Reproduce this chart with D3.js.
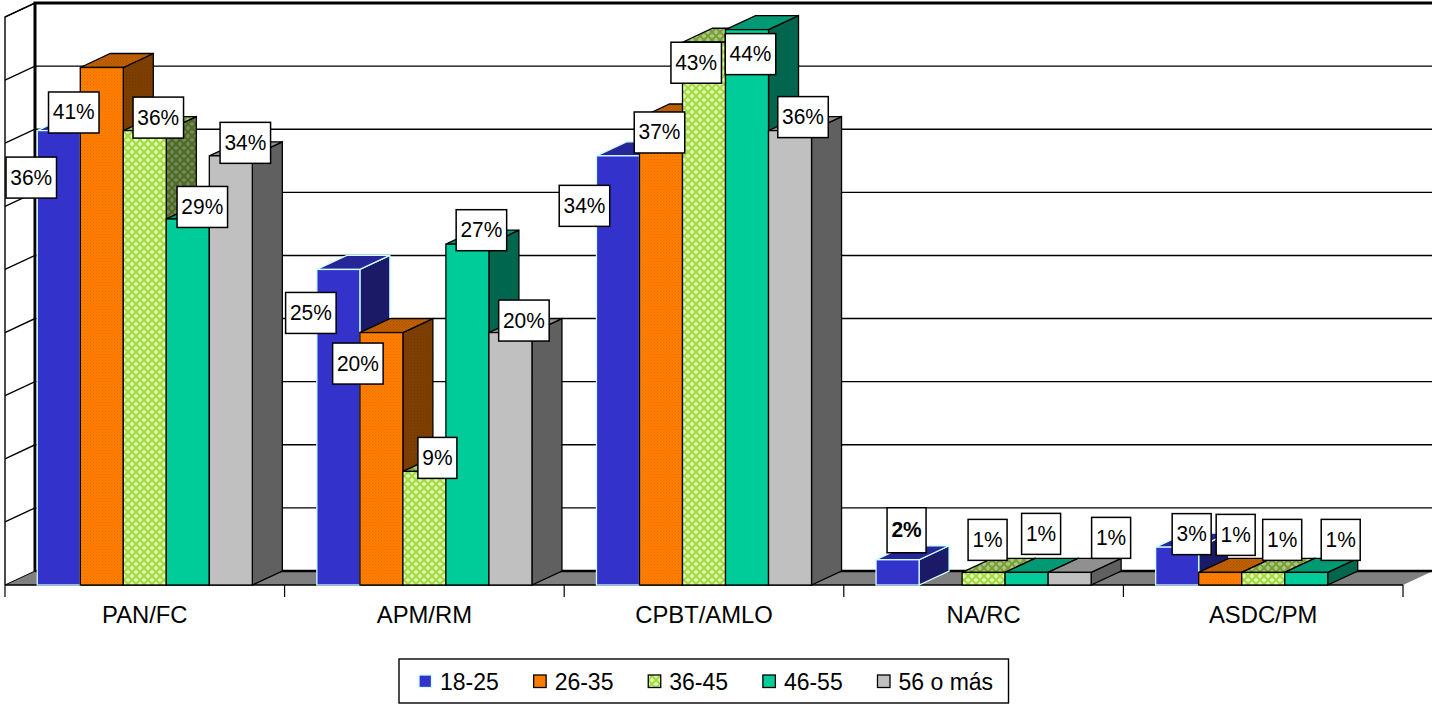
<!DOCTYPE html>
<html><head><meta charset="utf-8">
<script src="https://cdn.jsdelivr.net/npm/d3@7/dist/d3.min.js"></script>
<style>html,body{margin:0;padding:0;background:#fff}svg{display:block}text{font-family:"Liberation Sans",Arial,sans-serif;fill:#000}</style>
</head><body><div id="c"></div>
<script>
const categories = ["PAN/FC","APM/RM","CPBT/AMLO","NA/RC","ASDC/PM"];
const seriesNames = ["18-25","26-35","36-45","46-55","56 o más"];
const s1825 = [36,25,34,2,3];
const s2635 = [41,20,37,null,1];
const s3645 = [36,9,43,1,1];
const s4655 = [29,27,44,1,1];
const s56 = [34,20,36,1,null];
const seriesValues = [s1825,s2635,s3645,s4655,s56];
// hand-placed data label offsets in the source chart (from the bar's top-left front corner)
const labelDx = [[-6,-6.5,35,36,36],[-6,-2,34.5,35.5,35],[-12,20,13.7,25,34.5],[30.5,0,25.5,36,63],[36,37,40.5,56,0]];
const labelDy = [[47,45,-13,-12,-13],[43.5,31,-13.5,-14,-12],[50,14.5,20.5,24.5,-13.5],[-29.5,0,-32.5,-38.5,-34.5],[-13,-37.5,-32.5,-32.5,0]];

const W=1432,H=704,depthX=30,depthY=14;
const svg=d3.select("#c").append("svg").attr("width",W).attr("height",H);
const defs=svg.append("defs");
function lattice(id,bg,fg,hi){
  const p=defs.append("pattern").attr("id",id).attr("width",8).attr("height",8).attr("patternUnits","userSpaceOnUse");
  p.append("rect").attr("width",8).attr("height",8).attr("fill",bg);
  p.append("path").attr("d","M0,0L8,8M8,0L0,8").attr("stroke",fg).attr("stroke-width",1.6);
  p.append("rect").attr("x",0).attr("y",3).attr("width",2).attr("height",2).attr("fill",hi);
  p.append("rect").attr("x",6).attr("y",3).attr("width",2).attr("height",2).attr("fill",hi);
  p.append("rect").attr("x",3).attr("y",0).attr("width",2).attr("height",2).attr("fill",hi);
  p.append("rect").attr("x",3).attr("y",6).attr("width",2).attr("height",2).attr("fill",hi);
}
function fine(id,bg,fg){
  const p=defs.append("pattern").attr("id",id).attr("width",3).attr("height",3).attr("patternUnits","userSpaceOnUse");
  p.append("rect").attr("width",3).attr("height",3).attr("fill",bg);
  p.append("rect").attr("width",1).attr("height",1).attr("fill",fg);
  p.append("rect").attr("x",1.5).attr("y",1.5).attr("width",1).attr("height",1).attr("fill",fg);
}
fine("oF","#ff8000","#e86c00");fine("oT","#c06000","#a85000");fine("oS","#804000","#6c3600");
lattice("gF","#c8f58c","#a6d63c","#d8fbb4");lattice("gT","#99bf73","#7a9a2c","#a8c888");lattice("gS","#66804d","#4d6620","#708a58");
const styles=[
 {front:"#3333cc",top:"#262699",side:"#1a1a66",stroke:"#ccffff"},
 {front:"url(#oF)",top:"url(#oT)",side:"url(#oS)",stroke:"#000"},
 {front:"url(#gF)",top:"url(#gT)",side:"url(#gS)",stroke:"#000"},
 {front:"#00cc99",top:"#009973",side:"#00664d",stroke:"#000"},
 {front:"#c0c0c0",top:"#909090",side:"#606060",stroke:"#000"}];

const x=d3.scaleBand().domain(categories).range([5,1403]);
const xi=d3.scaleBand().domain(seriesNames).range([0,x.step()]).paddingOuter(.75).paddingInner(0);
const y=d3.scaleLinear().domain([0,45]).range([585,17]);
const poly=pts=>"M"+pts.map(p=>p.join(",")).join("L")+"Z";

// walls
const y0=y(0),yT=y(45),xL=5,xR=1403;
svg.append("path").attr("d",poly([[xL,y0],[xL+depthX,y0-depthY],[xR+depthX,y0-depthY],[xR,y0]])).attr("fill","#808080");
const grid=svg.append("g");
y.ticks(9).forEach(t=>{
  const yy=y(t);
  grid.append("path").attr("d",`M${xL},${yy}L${xL+depthX},${yy-depthY}L${xR+depthX},${yy-depthY}`).attr("fill","none").attr("stroke","#000").attr("stroke-width",(t===0||t===45)?1:1.4);
});
svg.append("path").attr("d",`M${xL+depthX},${y0-depthY}L${xR+depthX},${y0-depthY}`).attr("stroke","#000").attr("stroke-width",2.4);
svg.append("path").attr("d",`M${xL+depthX},${y0-depthY}L${xL+depthX},${yT-depthY}L${xR+depthX},${yT-depthY}`).attr("fill","none").attr("stroke","#000").attr("stroke-width",3);
svg.append("path").attr("d",`M${xL},${y0}L${xL},${yT}L${xL+depthX},${yT-depthY}`).attr("fill","none").attr("stroke","#000").attr("stroke-width",1.4);

// axis
const axis=svg.append("g").attr("transform",`translate(0,${y0})`).call(d3.axisBottom(x).tickSize(0).tickPadding(21));
axis.select(".domain").attr("stroke","#000").attr("stroke-width",1.4).attr("d",`M${xL},0L${xR},0`);
axis.selectAll("text").attr("font-size",23.8).attr("font-family","Liberation Sans");
x.domain().concat([null]).forEach((c,i)=>{
  const tx=xL+i*x.step();
  axis.append("line").attr("x1",tx).attr("x2",tx).attr("y1",0).attr("y2",12).attr("stroke","#000").attr("stroke-width",1.2);
});

// bars, painted left to right
const bars=svg.append("g");
categories.forEach((c,ci)=>{
  seriesNames.forEach((s,si)=>{
    const v=seriesValues[si][ci];
    if(v==null) return;
    const st=styles[si],x0=x(c)+xi(s),x1=x0+xi.bandwidth(),t=y(v),b=y(0);
    const g=bars.append("g").attr("stroke",st.stroke).attr("stroke-width",1.3).attr("stroke-linejoin","miter");
    g.append("path").attr("d",poly([[x1,t],[x1+depthX,t-depthY],[x1+depthX,b-depthY],[x1,b]])).attr("fill",st.side);
    g.append("path").attr("d",poly([[x0,t],[x0+depthX,t-depthY],[x1+depthX,t-depthY],[x1,t]])).attr("fill",st.top);
    g.append("rect").attr("x",x0).attr("y",t).attr("width",x1-x0).attr("height",b-t).attr("fill",st.front);
  });
});

// data labels
const labels=svg.append("g");
categories.forEach((c,ci)=>{
  seriesNames.forEach((s,si)=>{
    const v=seriesValues[si][ci];
    if(v==null) return;
    const cx=x(c)+xi(s)+labelDx[ci][si], cy=y(v)+labelDy[ci][si];
    const txt=v+"%";
    const bold=(ci===3&&si===0);
    const w=txt.length===3?50.5:39,h=bold?45:41;
    const g=labels.append("g");
    g.append("rect").attr("x",cx-w/2).attr("y",cy-h/2).attr("width",w).attr("height",h).attr("fill","#fff").attr("stroke","#000").attr("stroke-width",1.5);
    const t=g.append("text").attr("x",cx).attr("y",cy).attr("dy","0.31em").attr("text-anchor","middle").attr("font-size",22.5)
      .attr("font-weight",bold?"bold":"normal").text(txt);
    const natural=t.node().getComputedTextLength();
    t.attr("textLength",natural*0.93).attr("lengthAdjust","spacingAndGlyphs");
  });
});

// legend
const lg=svg.append("g");
lg.append("rect").attr("x",399).attr("y",659).attr("width",609.5).attr("height",44).attr("fill","#fff").attr("stroke","#000").attr("stroke-width",1.4);
const lx=d3.scalePoint().domain(seriesNames).range([419,877.5]);
seriesNames.forEach((s,i)=>{
  lg.append("rect").attr("x",lx(s)).attr("y",675).attr("width",12.5).attr("height",12.5).attr("fill",styles[i].front).attr("stroke",styles[i].stroke).attr("stroke-width",1.3);
  lg.append("text").attr("x",lx(s)+21).attr("y",682).attr("dy","0.36em").attr("font-size",23).text(s);
});
</script></body></html>
